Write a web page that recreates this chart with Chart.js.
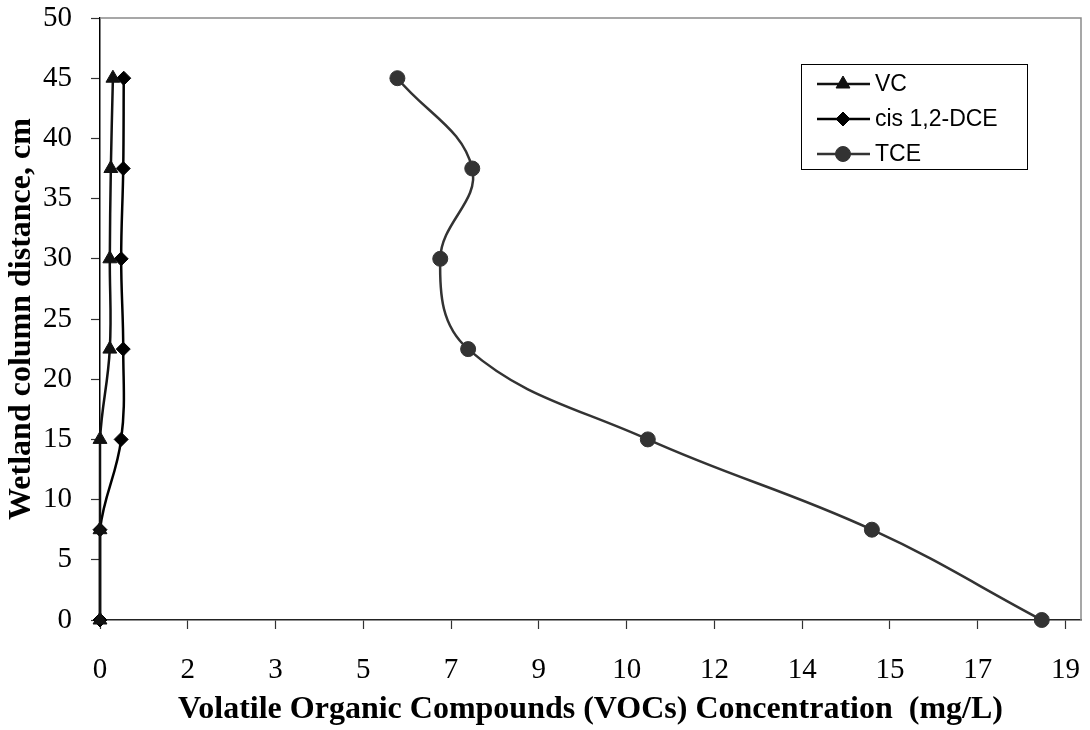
<!DOCTYPE html>
<html>
<head>
<meta charset="utf-8">
<script src="https://cdn.jsdelivr.net/npm/chart.js@4/dist/chart.umd.min.js"></script>
<style>
  html, body { margin: 0; padding: 0; background: #fff; }
  #wrap { width: 1090px; height: 730px; }
</style>
</head>
<body>
<div id="wrap"><canvas id="vocChart" width="1090" height="730"></canvas></div>
<script>
// distance along the wetland column (cm)
const depths = [0, 7.5, 15, 22.5, 30, 37.5, 45];

// concentrations, mg/L
const vcConc = [0, 0, 0, 0.19, 0.19, 0.21, 0.25];
const dceConc = [0, 0, 0.41, 0.45, 0.41, 0.45, 0.46];
const tceConc = [18.24, 14.95, 10.61, 7.13, 6.59, 7.21, 5.76];

// x axis uses a 1.7 major unit, labels shown rounded to whole numbers
const xTickValues = [0, 1.7, 3.4, 5.1, 6.8, 8.5, 10.2, 11.9, 13.6, 15.3, 17, 18.7];
const xTickLabels = ['0', '2', '3', '5', '7', '9', '10', '12', '14', '15', '17', '19'];

const legendNames = ['VC', 'cis 1,2-DCE', 'TCE'];

const toPoints = (xs) => xs.map((x, i) => ({ x: x, y: depths[i] }));

const serif = 'Liberation Serif, Times New Roman, serif';

const makeSet = (label, values, color, style, radius) => ({
  label: label,
  data: toPoints(values),
  borderColor: color,
  backgroundColor: color,
  borderWidth: 2.5,
  pointStyle: style,
  pointRadius: radius,
  pointBorderWidth: 1,
  pointBorderColor: color,
  pointBackgroundColor: color,
  showLine: true,
  tension: 0.4,
  clip: { left: 12, bottom: 12, top: 4, right: 4 }
});

// grey frame on top/right of the plot, like the spreadsheet style
const plotFrame = {
  id: 'plotFrame',
  beforeDatasetsDraw(chart) {
    const { ctx, chartArea: a } = chart;
    ctx.save();
    ctx.strokeStyle = '#8a8a8a';
    ctx.lineWidth = 1.5;
    ctx.beginPath();
    ctx.moveTo(a.left, a.top);
    ctx.lineTo(a.right, a.top);
    ctx.lineTo(a.right, a.bottom);
    ctx.stroke();
    ctx.restore();
  }
};

// boxed legend with line + marker samples
const boxLegend = {
  id: 'boxLegend',
  afterDraw(chart) {
    const ctx = chart.ctx;
    const box = { left: 801, top: 64, right: 1027, bottom: 169 };
    const rows = [84, 119, 154];
    ctx.save();
    ctx.fillStyle = '#fff';
    ctx.fillRect(box.left, box.top, box.right - box.left, box.bottom - box.top);
    ctx.strokeStyle = '#000';
    ctx.lineWidth = 1;
    ctx.strokeRect(box.left + 0.5, box.top + 0.5, box.right - box.left, box.bottom - box.top);
    chart.data.datasets.forEach((ds, i) => {
      const y = rows[i];
      ctx.strokeStyle = ds.borderColor;
      ctx.lineWidth = 2.5;
      ctx.beginPath();
      ctx.moveTo(817, y);
      ctx.lineTo(870, y);
      ctx.stroke();
      ctx.fillStyle = ds.pointBackgroundColor;
      ctx.strokeStyle = ds.pointBorderColor;
      ctx.lineWidth = 1;
      Chart.helpers.drawPoint(ctx, { pointStyle: ds.pointStyle, radius: ds.pointRadius, rotation: 0, borderWidth: 1 }, 843, y);
      ctx.fillStyle = '#000';
      ctx.font = '23px Liberation Sans, Arial, sans-serif';
      ctx.textBaseline = 'middle';
      ctx.textAlign = 'left';
      ctx.fillText(legendNames[i], 875, y + 1);
    });
    ctx.restore();
  }
};

const ctx = document.getElementById('vocChart').getContext('2d');
const vocChart = new Chart(ctx, {
  type: 'scatter',
  data: {
    datasets: [
      makeSet(legendNames[0], vcConc, '#111', 'triangle', 8),
      makeSet(legendNames[1], dceConc, '#000', 'rectRot', 7),
      makeSet(legendNames[2], tceConc, '#333', 'circle', 7.5)
    ]
  },
  options: {
    responsive: false,
    animation: false,
    devicePixelRatio: 1,
    layout: { padding: { top: 18, right: 7, left: 0, bottom: 0 } },
    plugins: {
      legend: { display: false },
      tooltip: { enabled: false }
    },
    scales: {
      x: {
        type: 'linear',
        min: 0,
        max: 19,
        afterBuildTicks: (s) => { s.ticks = xTickValues.map(v => ({ value: v })); },
        afterFit: (s) => { s.height = 110; s.paddingLeft = 0; s.paddingRight = 0; },
        ticks: {
          callback: (v, i) => xTickLabels[i],
          autoSkip: false,
          maxRotation: 0,
          color: '#000',
          padding: 24,
          font: { family: serif, size: 29 }
        },
        grid: { drawOnChartArea: false, tickLength: 9, color: '#333', tickWidth: 1.2 },
        border: { color: '#222', width: 1.5 },
        title: {
          display: true,
          text: 'Volatile Organic Compounds (VOCs) Concentration  (mg/L)',
          color: '#000',
          padding: { top: 0, bottom: 1 },
          font: { family: serif, size: 32, weight: 'bold' }
        }
      },
      y: {
        type: 'linear',
        min: 0,
        max: 50,
        afterFit: (s) => { s.width = 100; s.paddingTop = 0; s.paddingBottom = 0; },
        ticks: {
          stepSize: 5,
          color: '#000',
          padding: 19,
          font: { family: serif, size: 29 }
        },
        grid: { drawOnChartArea: false, tickLength: 9, color: '#333', tickWidth: 1.2 },
        border: { color: '#000', width: 1.5 },
        title: {
          display: true,
          text: 'Wetland column distance, cm',
          color: '#000',
          padding: { top: 3, bottom: 0 },
          font: { family: serif, size: 32, weight: 'bold' }
        }
      }
    }
  },
  plugins: [plotFrame, boxLegend]
});
</script>
</body>
</html>
